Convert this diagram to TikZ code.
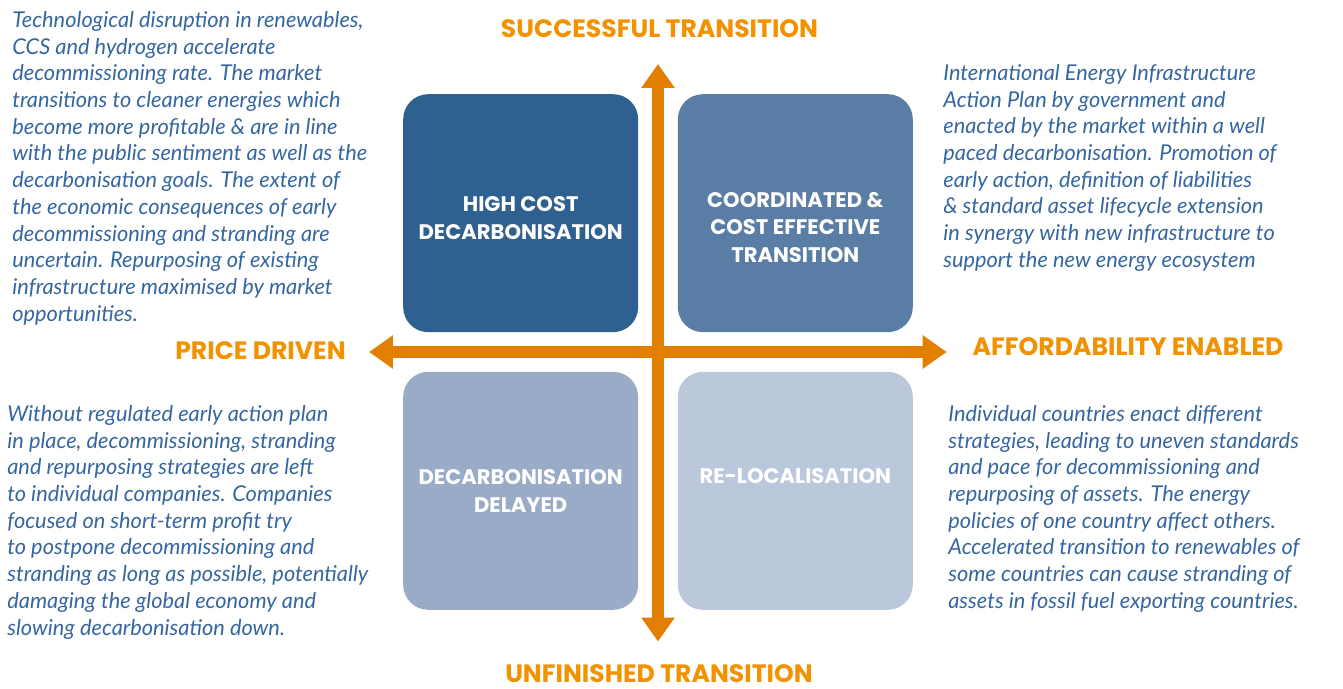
\documentclass[tikz,border=0pt]{standalone}
\usepackage{fontspec}
\usepackage{tikz}
\usetikzlibrary{arrows.meta}
\usetikzlibrary{positioning}

\newfontfamily\headfamily{Poppins}
\newfontfamily\descfamily{Lato}

\definecolor{axisorange}{HTML}{E27F00}
\definecolor{labelorange}{HTML}{F29200}
\definecolor{descblue}{HTML}{3566A0}
\definecolor{quadA}{HTML}{2F6190}
\definecolor{quadB}{HTML}{5A7DA5}
\definecolor{quadC}{HTML}{9AABC7}
\definecolor{quadD}{HTML}{BBC7DB}

\newcommand{\descfont}{\descfamily\itshape\fontsize{12.4}{15.2}\selectfont}
\newcommand{\axisfont}{\headfamily\bfseries\fontsize{14.3}{16}\selectfont}
\newcommand{\quadfont}{\headfamily\bfseries\fontsize{12}{15.6}\selectfont}

\begin{document}
\begin{tikzpicture}[x=0.02cm, y=-0.02cm,
		quad/.style={rounded corners=0.5cm, minimum width=4.7cm, minimum height=4.76cm},
		quadtext/.style={text=white, align=center, font=\quadfont},
		axislabel/.style={text=labelorange, font=\axisfont, anchor=base, inner sep=0pt},
		desc/.style={text=descblue, align=left, anchor=north west, inner sep=0pt, font=\descfont},
		axis/.style={draw=axisorange, line width=0.24cm, {Triangle[width=0.64cm,length=0.48cm]}-{Triangle[width=0.64cm,length=0.48cm]}}]
	\useasboundingbox (0,0) rectangle (1343,689);

	\coordinate (O) at (658,352);
	\coordinate (N) at (658,64);
	\coordinate (S) at (658,641.5);
	\coordinate (W) at (369,352);
	\coordinate (E) at (946.7,352);

	\node[quad, fill=quadA, above left=0.39cm and 0.39cm of O,
		label={[quadtext, yshift=-0.1cm]center:{HIGH COST\\DECARBONISATION}}] (highcost) {};
	\node[quad, fill=quadB, above right=0.39cm and 0.39cm of O,
		label={[quadtext, yshift=-0.28cm]center:{COORDINATED \&\\COST EFFECTIVE\\TRANSITION}}] (coordinated) {};
	\node[quad, fill=quadC, below left=0.39cm and 0.39cm of O,
		label={[quadtext]center:{DECARBONISATION\\DELAYED}}] (delayed) {};
	\node[quad, fill=quadD, below right=0.39cm and 0.39cm of O,
		label={[quadtext, yshift=0.3cm]center:{RE-LOCALISATION}}] (relocal) {};

	\draw[axis] (S) -- (N);
	\draw[axis] (W) -- (E);

	\node[axislabel] (success) at (659.5,37.3) {SUCCESSFUL TRANSITION};
	\node[axislabel] (unfinished) at (659,682) {UNFINISHED TRANSITION};
	\node[axislabel] (price) at (260.5,359.3) {PRICE DRIVEN};
	\node[axislabel] (afford) at (1128,355.5) {AFFORDABILITY ENABLED};

	\node[desc] (descA) at (12,11) {Technological disruption in renewables,\\CCS and hydrogen accelerate\\decommissioning rate. The market\\transitions to cleaner energies which\\become more profitable \& are in line\\with the public sentiment as well as the\\decarbonisation goals. The extent of\\the economic consequences of early\\decommissioning and stranding are\\uncertain. Repurposing of existing\\infrastructure maximised by market\\opportunities.};
	\node[desc] (descB) at (943,64) {International Energy Infrastructure\\Action Plan by government and\\enacted by the market within a well\\paced decarbonisation. Promotion of\\early action, definition of liabilities\\\& standard asset lifecycle extension\\in synergy with new infrastructure to\\support the new energy ecosystem};
	\node[desc] (descC) at (7,405) {Without regulated early action plan\\in place, decommissioning, stranding\\and repurposing strategies are left\\to individual companies. Companies\\focused on short-term profit try\\to postpone decommissioning and\\stranding as long as possible, potentially\\damaging the global economy and\\slowing decarbonisation down.};
	\node[desc] (descD) at (948,405) {Individual countries enact different\\strategies, leading to uneven standards\\and pace for decommissioning and\\repurposing of assets. The energy\\policies of one country affect others.\\Accelerated transition to renewables of\\some countries can cause stranding of\\assets in fossil fuel exporting countries.};
\end{tikzpicture}
\end{document}
